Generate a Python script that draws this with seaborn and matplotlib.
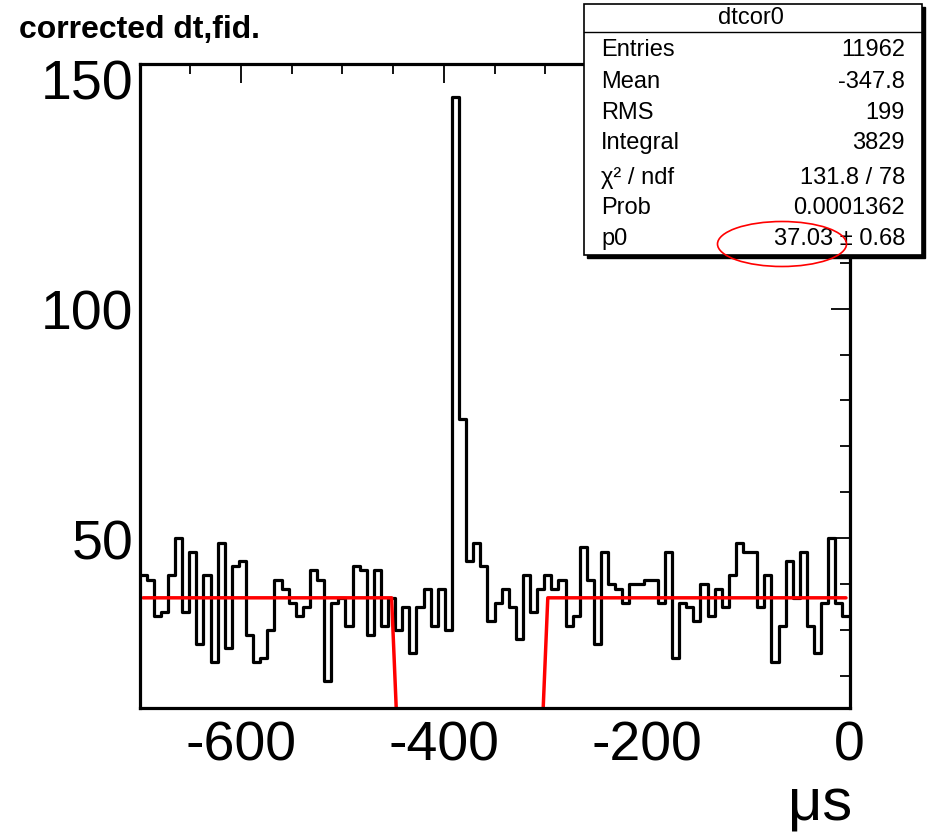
import numpy as np
import pandas as pd
import matplotlib
matplotlib.use("Agg")
import matplotlib.pyplot as plt
from matplotlib.patches import Rectangle, Ellipse
from matplotlib.ticker import MultipleLocator, FixedLocator
import seaborn as sns

# ---------------- data ----------------
hist_range = [-700.0, 0.0]
n_bins = 100
counts = [42, 41, 33, 34, 42, 50, 34, 47, 27, 42,
          23, 49, 26, 44, 45, 29, 23, 24, 30, 41,
          39, 36, 33, 35, 43, 41, 19, 36, 37, 31,
          44, 43, 29, 43, 31, 37, 30, 35, 25, 35,
          39, 31, 39, 30, 146, 76, 45, 49, 44, 32,
          36, 39, 35, 28, 42, 34, 39, 42, 39, 41,
          31, 33, 48, 41, 27, 47, 40, 39, 36, 40,
          40, 41, 41, 36, 47, 24, 36, 35, 32, 40,
          33, 39, 35, 42, 49, 47, 47, 35, 42, 23,
          31, 45, 37, 47, 31, 25, 36, 50, 36, 33]
fit_p0 = 37.03
fit_reject = [-450.0, -300.0]

x_ticks = [-600, -400, -200, 0]
y_ticks = [50, 100, 150]
title = "corrected dt,fid."
x_label = "\u03bcs"
stats_name = "dtcor0"
stats_labels = ["Entries", "Mean", "RMS", "Integral", "\u03c7\u00b2 / ndf", "Prob", "p0"]
stats_values = ["11962", "-347.8", "199", "3829", "131.8 / 78", "0.0001362", "37.03 \u00b1 0.68"]

# ---------------- derived tables ----------------
edges = np.linspace(hist_range[0], hist_range[1], n_bins + 1)
centers = 0.5 * (edges[:-1] + edges[1:])
df = pd.DataFrame({"t": centers, "n": counts})
fit_y = np.where((centers > fit_reject[0]) & (centers < fit_reject[1]), 0.0, fit_p0)
fit_df = pd.DataFrame({"t": centers, "f": fit_y})

# ---------------- style ----------------
sns.set_style("white")
plt.rcParams["font.family"] = ["Liberation Sans", "DejaVu Sans"]
for k in ["text.color", "axes.labelcolor", "xtick.color", "ytick.color", "axes.edgecolor"]:
    plt.rcParams[k] = "black"

W, H = 927, 837
fig = plt.figure(figsize=(W / 100, H / 100), dpi=100)
ax_l, ax_r, ax_t, ax_b = 139.6, 849.5, 65.0, 709.0
ax = fig.add_axes([ax_l / W, 1 - ax_b / H, (ax_r - ax_l) / W, (ax_b - ax_t) / H])

sns.histplot(data=df, x="t", weights="n", bins=n_bins, binrange=tuple(hist_range),
             element="step", fill=False, color="black", linewidth=2.3, ax=ax)
sns.lineplot(data=fit_df, x="t", y="f", color="red", linewidth=2.5, ax=ax)

ax.set_xlim(hist_range[0], hist_range[1])
ax.set_ylim(13.04, 153.26)
ax.xaxis.set_major_locator(FixedLocator(x_ticks))
ax.xaxis.set_minor_locator(MultipleLocator(50))
ax.yaxis.set_major_locator(FixedLocator(y_ticks))
ax.yaxis.set_minor_locator(MultipleLocator(10))
ax.set_xticklabels([str(v) for v in x_ticks])
ax.set_yticklabels([str(v) for v in y_ticks])
ax.tick_params(which="both", direction="in", top=True, right=True, color="black", width=1.3)
ax.tick_params(which="major", length=14)
ax.tick_params(which="minor", length=7.5)
ax.tick_params(axis="x", which="major", labelsize=40, pad=8, labelcolor="black")
ax.tick_params(axis="y", which="major", labelsize=40, pad=4.5, labelcolor="black")
ax.set_xlabel("")
ax.set_ylabel("")
for s in ax.spines.values():
    s.set_linewidth(2.3)
    s.set_color("black")

# ---------------- overlay in pixel coords ----------------
ov = fig.add_axes([0, 0, 1, 1])
ov.set_xlim(0, W)
ov.set_ylim(H, 0)
ov.axis("off")
ov.patch.set_alpha(0)

ov.text(19, 30, title, fontsize=23, fontweight="bold", ha="left", va="center", color="black")
ov.text(852, 821, x_label, fontsize=43, ha="right", va="baseline", color="black")

# stats box
bx0, by0, bx1, by1 = 584, 5, 922, 256
ov.add_patch(Rectangle((bx0 + 3, by0 + 3), bx1 - bx0, by1 - by0, facecolor="black",
                       edgecolor="black", zorder=5))
ov.add_patch(Rectangle((bx0, by0), bx1 - bx0, by1 - by0, facecolor="white",
                       edgecolor="black", linewidth=1.2, zorder=6))
ov.plot([bx0, bx1], [33.3, 33.3], color="black", linewidth=1.0, zorder=7)
ov.text(751, 18, stats_name, fontsize=17, ha="center", va="center", zorder=8, color="black")
row_y = [50, 82, 113, 143, 178, 208, 239]
for lab, val, yy in zip(stats_labels, stats_values, row_y):
    ov.text(601, yy, lab, fontsize=17, ha="left", va="center", zorder=8, color="black")
    ov.text(905, yy, val, fontsize=17, ha="right", va="center", zorder=8, color="black")
ov.add_patch(Ellipse((782, 245), 129, 45, facecolor="none", edgecolor="red",
                     linewidth=1.2, zorder=9))

fig.savefig("out.png", dpi=100)
